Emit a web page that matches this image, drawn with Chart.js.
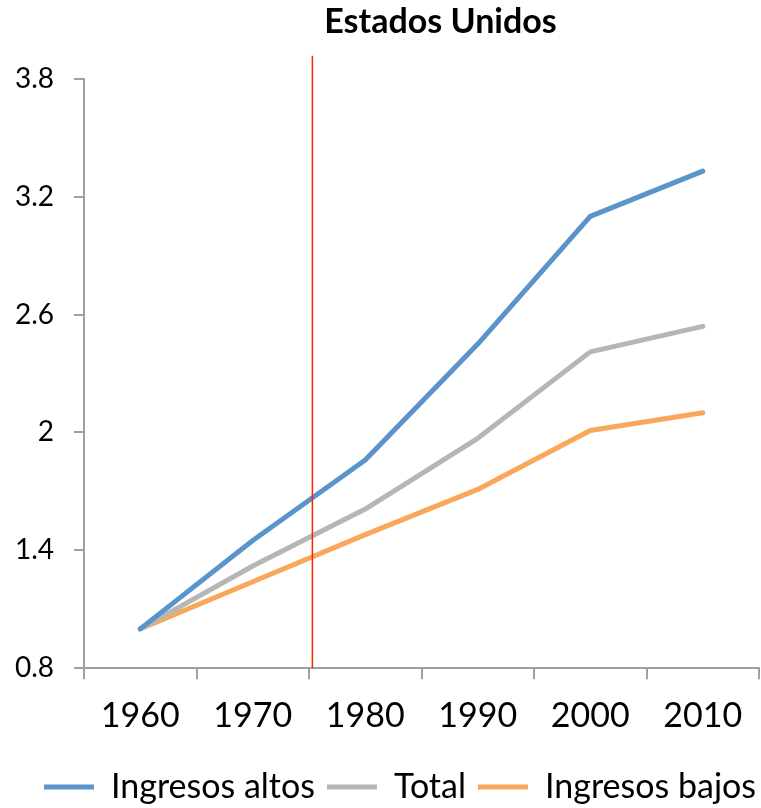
<!DOCTYPE html>
<html>
<head>
<meta charset="utf-8">
<script src="https://cdn.jsdelivr.net/npm/chart.js@4.4.0/dist/chart.umd.min.js"></script>
<style>
  body { margin: 0; background: #fff; }
  #wrap { width: 761px; height: 808px; }
</style>
</head>
<body>
<div id="wrap"><canvas id="chart"></canvas></div>
<script>
// data
let years = ["1960", "1970", "1980", "1990", "2000", "2010"];
let altos = [1.0, 1.45, 1.86, 2.45, 3.10, 3.33];
let total = [1.0, 1.32, 1.61, 1.97, 2.41, 2.54];
let bajos = [1.0, 1.24, 1.48, 1.71, 2.01, 2.10];
let yTicks = [0.8, 1.4, 2, 2.6, 3.2, 3.8];
let markerYear = 1975.3;

let axisGrey = "#A0A0A0";
let fontFam = "Lato, 'Open Sans', sans-serif";

// red vertical marker line
const markerLine = {
  id: "markerLine",
  afterLayout(chart) {
    // title and legend sit a bit right of centre in the original
    chart.titleBlock.left += 19;
    chart.titleBlock.right += 19;
    chart.legend.left += 14;
    chart.legend.right += 14;
    chart.legend.top += 6;
    chart.legend.bottom += 6;
  },
  afterDatasetsDraw(chart) {
    const ctx = chart.ctx;
    const area = chart.chartArea;
    const x = chart.scales.x.getPixelForValue((markerYear - Number(years[0])) / 10);
    ctx.save();
    ctx.strokeStyle = "#FF2200";
    ctx.lineWidth = 1.5;
    ctx.beginPath();
    ctx.moveTo(x, area.top - 23);
    ctx.lineTo(x, area.bottom);
    ctx.stroke();
    ctx.restore();
  },
};

function line(label, data, color) {
  return {
    label: label,
    data: data,
    borderColor: color,
    backgroundColor: color,
    borderWidth: 5,
    pointRadius: 0,
    tension: 0,
    fill: false,
    borderCapStyle: "round",
    borderJoinStyle: "round",
  };
}

new Chart("chart", {
  type: "line",
  data: {
    labels: years,
    datasets: [
      line("Ingresos altos", altos, "#5B93CB"),
      line("Total", total, "#B6B6B6"),
      line("Ingresos bajos", bajos, "#F9A75A"),
    ],
  },
  options: {
    responsive: true,
    maintainAspectRatio: false,
    animation: false,
    layout: { padding: { left: 13, right: 2, top: 0, bottom: 0 } },
    plugins: {
      title: {
        display: true,
        text: "Estados Unidos",
        fullSize: false,
        color: "#000",
        font: { family: fontFam, size: 34, weight: "bold" },
        padding: { top: 2, bottom: 36 },
      },
      legend: {
        position: "bottom",
        labels: {
          color: "#000",
          font: { family: fontFam, size: 34 },
          boxWidth: 50,
          boxHeight: 5,
          padding: 12,
          generateLabels(chart) {
            return chart.data.datasets.map((ds, i) => ({
              text: ds.label,
              fillStyle: ds.borderColor,
              strokeStyle: ds.borderColor,
              lineWidth: 0,
              datasetIndex: i,
              hidden: false,
              fontColor: "#000",
            }));
          },
        },
      },
      tooltip: { enabled: false },
    },
    scales: {
      x: {
        type: "category",
        offset: true,
        afterFit(axis) {
          axis.paddingLeft = 0;
          axis.paddingRight = 0;
        },
        grid: {
          offset: true,
          drawOnChartArea: false,
          drawTicks: true,
          tickLength: 11,
          color: axisGrey,
          lineWidth: 2,
        },
        border: { color: axisGrey, width: 2 },
        ticks: {
          color: "#000",
          font: { family: fontFam, size: 34 },
          padding: 16,
          maxRotation: 0,
          autoSkip: false,
        },
      },
      y: {
        min: 0.8,
        max: 3.8,
        afterBuildTicks(axis) {
          axis.ticks = yTicks.map((v) => ({ value: v }));
        },
        afterFit(axis) {
          axis.width = 71;
        },
        grid: {
          drawOnChartArea: false,
          drawTicks: true,
          tickLength: 10,
          color: axisGrey,
          lineWidth: 2,
        },
        border: { color: axisGrey, width: 2 },
        ticks: {
          color: "#000",
          font: { family: fontFam, size: 28 },
          padding: 20,
          callback: (v) => String(v),
        },
      },
    },
  },
  plugins: [markerLine],
});
</script>
</body>
</html>
